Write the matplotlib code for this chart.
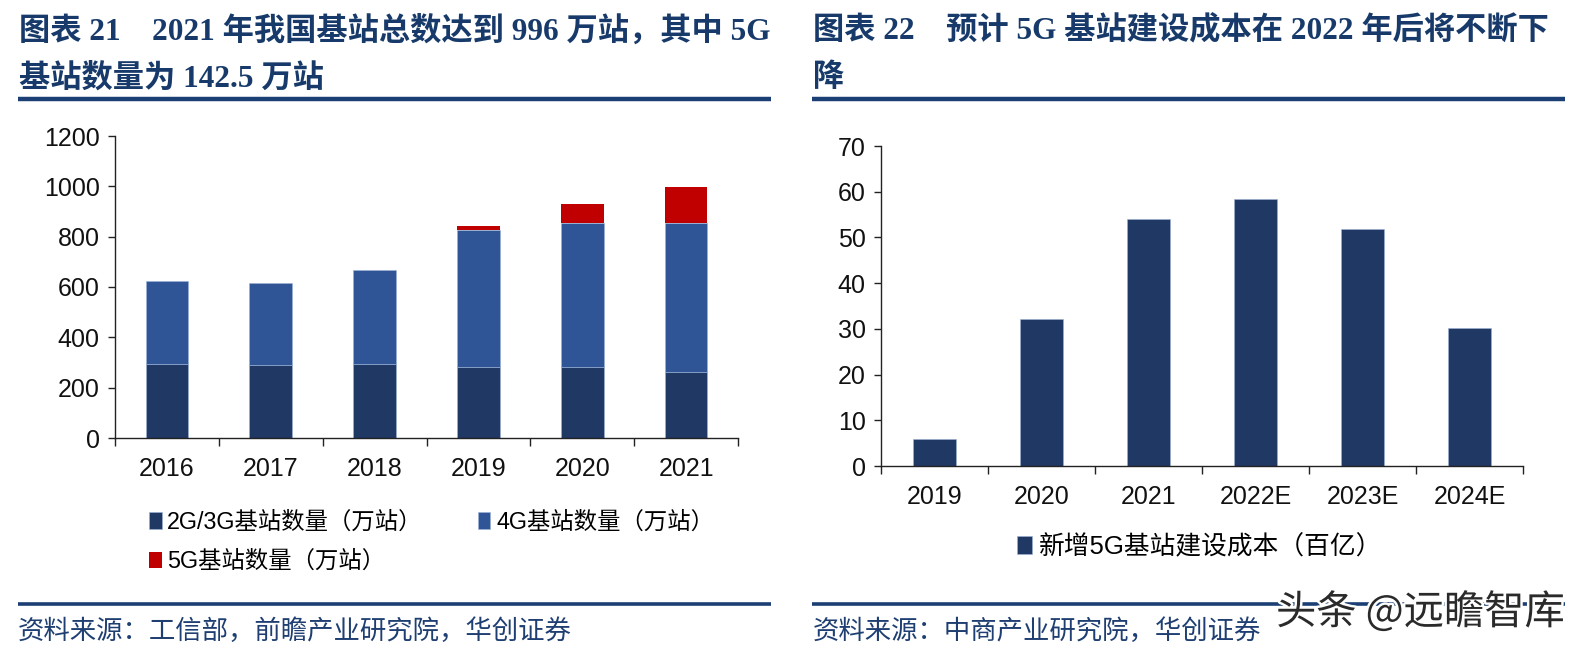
import matplotlib
matplotlib.use("Agg")
import matplotlib.pyplot as plt
from matplotlib.lines import Line2D
import matplotlib.patheffects as pe
import numpy as np

# ---------------- data ----------------
years_left = ["2016", "2017", "2018", "2019", "2020", "2021"]
bs_2g3g = [293, 290, 293, 281, 281, 263.5]
bs_4g = [329, 327, 373, 547, 575, 590]
bs_5g = [0, 0, 0, 13, 72, 142.5]
left_yticks = [0, 200, 400, 600, 800, 1000, 1200]
left_labels = ["2G/3G基站数量（万站）", "4G基站数量（万站）", "5G基站数量（万站）"]

years_right = ["2019", "2020", "2021", "2022E", "2023E", "2024E"]
cost_5g = [5.8, 32.1, 54.0, 58.4, 51.8, 30.1]
right_yticks = [0, 10, 20, 30, 40, 50, 60, 70]
right_label = "新增5G基站建设成本（百亿）"

title_left_1 = "图表 21    2021 年我国基站总数达到 996 万站，其中 5G"
title_left_2 = "基站数量为 142.5 万站"
title_right_1 = "图表 22    预计 5G 基站建设成本在 2022 年后将不断下"
title_right_2 = "降"
source_left = "资料来源：工信部，前瞻产业研究院，华创证券"
source_right = "资料来源：中商产业研究院，华创证券"
watermark = "头条 @远瞻智库"

# ---------------- style ----------------
C_2G = "#203864"
C_4G = "#2F5597"
C_5G = "#C00000"
C_TITLE = "#173A6A"
C_RULE = "#1B3F74"
SANS = ["Liberation Sans", "Noto Sans CJK SC"]
SERIF = ["Liberation Serif", "Noto Sans CJK SC"]

W, H = 1585, 659
fig = plt.figure(figsize=(W / 100, H / 100), dpi=100)


def fx(px):
    return px / W


def fy(py):
    return 1 - py / H


def style_axes(ax, n, yticks):
    for s in ["top", "right"]:
        ax.spines[s].set_visible(False)
    for s in ["left", "bottom"]:
        ax.spines[s].set_color("#222222")
        ax.spines[s].set_linewidth(1.0)
    ax.set_xlim(-0.5, n - 0.5)
    ax.set_ylim(yticks[0], yticks[-1])
    ax.set_yticks(yticks)
    ax.set_xticks(np.arange(n))
    ax.set_xticks(np.arange(n + 1) - 0.5, minor=True)
    ax.tick_params(axis="x", which="major", length=0, pad=14)
    ax.tick_params(axis="x", which="minor", length=6, width=1, color="#222222")
    ax.tick_params(axis="y", which="major", length=5, width=1, color="#222222", pad=6)
    for lab in ax.get_xticklabels() + ax.get_yticklabels():
        lab.set_fontfamily(SANS)
        lab.set_fontsize(18)
        lab.set_color("#111111")


# ---------------- left chart ----------------
axL = fig.add_axes([fx(115), fy(438), fx(738 - 115), (438 - 136) / H])
x = np.arange(len(years_left))
bw = 0.41
b1 = axL.bar(x, bs_2g3g, bw, color=C_2G, edgecolor="#9db3d8", linewidth=0.4, label=left_labels[0])
b2 = axL.bar(x, bs_4g, bw, bottom=bs_2g3g, color=C_4G, edgecolor="#9db3d8", linewidth=0.4, label=left_labels[1])
bottom5 = np.array(bs_2g3g) + np.array(bs_4g)
b3 = axL.bar(x, bs_5g, bw, bottom=bottom5, color=C_5G, linewidth=0, label=left_labels[2])
axL.set_xticks(x)
axL.set_xticklabels(years_left)
style_axes(axL, len(years_left), left_yticks)

legL = fig.legend(
    [b1, b3, b2], [left_labels[0], left_labels[2], left_labels[1]],
    ncol=2, loc="upper left", bbox_to_anchor=(fx(137), fy(499)),
    frameon=False, handlelength=0.55, handleheight=0.7, handletextpad=0.25,
    columnspacing=2.35, labelspacing=0.7, borderpad=0,
    prop={"family": SANS, "size": 16.8},
)

# ---------------- right chart ----------------
axR = fig.add_axes([fx(881), fy(466), fx(1523 - 881), (466 - 146) / H])
xr = np.arange(len(years_right))
br = axR.bar(xr, cost_5g, 0.4, color=C_2G, edgecolor="#9db3d8", linewidth=0.4, label=right_label)
axR.set_xticks(xr)
axR.set_xticklabels(years_right)
style_axes(axR, len(years_right), right_yticks)

fig.legend(
    [br], [right_label], loc="center", bbox_to_anchor=(fx(1200), fy(547)),
    frameon=False, handlelength=0.55, handleheight=0.7, handletextpad=0.3,
    borderpad=0, prop={"family": SANS, "size": 18.5},
)

# ---------------- titles, rules, sources ----------------
tkw = dict(family=SERIF, weight="bold", color=C_TITLE, fontsize=22.5, va="center", ha="left")
fig.text(fx(19), fy(31), title_left_1, **tkw)
fig.text(fx(19), fy(78), title_left_2, **tkw)
fig.text(fx(813), fy(31), title_right_1, **tkw)
fig.text(fx(813), fy(78), title_right_2, **tkw)

for (x0, x1) in [(18, 771), (812, 1565)]:
    for yy, lw in [(99, 3.2), (604, 2.6)]:
        fig.add_artist(Line2D([fx(x0), fx(x1)], [fy(yy), fy(yy)], transform=fig.transFigure,
                              color=C_RULE, linewidth=lw, solid_capstyle="butt"))

skw = dict(family=SERIF, style="italic", color="#1F3F72", fontsize=19, va="center", ha="left")
fig.text(fx(18), fy(631), source_left, **skw)
fig.text(fx(813), fy(631), source_right, **skw)

wm = fig.text(fx(1276), fy(612), watermark, family=["Noto Sans CJK SC", "DejaVu Sans"],
              fontsize=29, color="#2a2a2a", va="center", ha="left")
wm.set_path_effects([pe.withStroke(linewidth=3.5, foreground="white")])

fig.savefig("out.png", dpi=100, facecolor="white")
